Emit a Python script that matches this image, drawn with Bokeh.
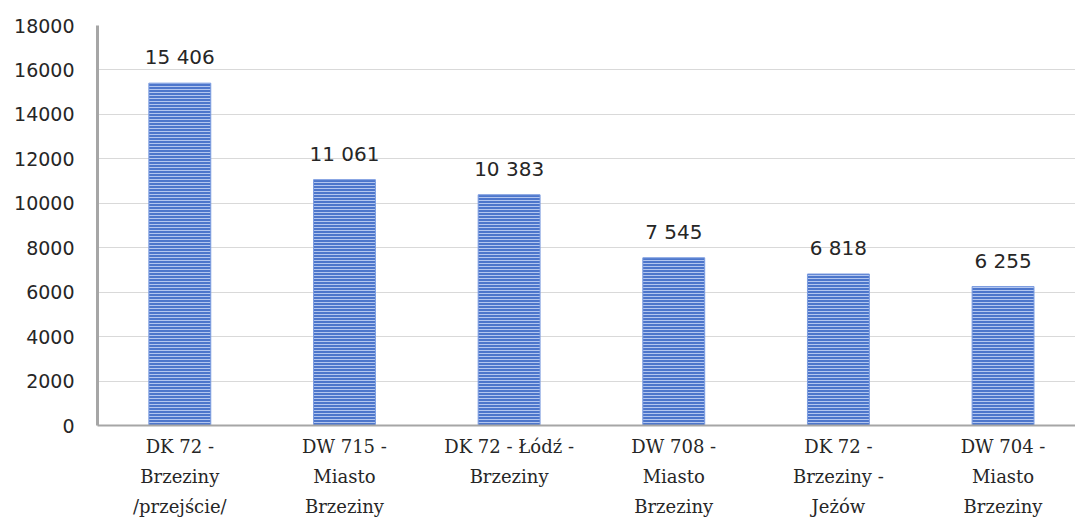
from bokeh.plotting import figure
from bokeh.models import Range1d, FixedTicker, ColumnDataSource
from bokeh.core.properties import value
from bokeh.embed import file_html
from bokeh.resources import INLINE

# Average daily traffic per measurement section
categories = [
    "DK 72 -\nBrzeziny\n/przejście/",
    "DW 715 -\nMiasto\nBrzeziny",
    "DK 72 - Łódź -\nBrzeziny",
    "DW 708 -\nMiasto\nBrzeziny",
    "DK 72 -\nBrzeziny -\nJeżów",
    "DW 704 -\nMiasto\nBrzeziny",
]
traffic = [15406, 11061, 10383, 7545, 6818, 6255]
y_ticks = [0, 2000, 4000, 6000, 8000, 10000, 12000, 14000, 16000, 18000]

xs = [i + 0.5 for i in range(len(categories))]
labels = [f"{v:,}".replace(",", " ") for v in traffic]
src = ColumnDataSource(dict(x=xs, top=traffic, label=labels))

p = figure(
    width=1075, height=522,
    output_backend="svg", toolbar_location=None,
    x_range=Range1d(0, 5.94), y_range=Range1d(0, 18000),
    min_border_left=97, min_border_right=0,
    min_border_top=25, min_border_bottom=97,
)
p.outline_line_color = None
p.background_fill_color = "white"
p.border_fill_color = "white"

p.vbar(
    x="x", top="top", width=0.376, source=src,
    fill_color="#4d76cb", line_color="#7d9de0", line_width=1,
    hatch_pattern="horizontal_line", hatch_color="#b3c6ef",
    hatch_scale=3, hatch_weight=1,
)

p.text(
    x="x", y="top", text="label", source=src,
    text_align="center", text_baseline="bottom", y_offset=-14,
    text_font=value("DejaVu Sans"), text_font_size="20px", text_color="#262626",
)

# grid
p.xgrid.grid_line_color = None
p.ygrid.grid_line_color = "#d9d9d9"
p.ygrid.grid_line_width = 1
p.ygrid.ticker = FixedTicker(ticks=y_ticks)

# y axis
p.yaxis.ticker = FixedTicker(ticks=y_ticks)
p.yaxis.axis_line_color = "#a6a6a6"
p.yaxis.axis_line_width = 3
p.yaxis.major_tick_line_color = None
p.yaxis.minor_tick_line_color = None
p.yaxis.major_label_standoff = 17
p.yaxis.major_label_text_font = "DejaVu Sans"
p.yaxis.major_label_text_font_size = "19px"
p.yaxis.major_label_text_color = "#262626"

# x axis
p.xaxis.ticker = FixedTicker(ticks=xs)
p.xaxis.major_label_overrides = {x: c for x, c in zip(xs, categories)}
p.xaxis.axis_line_color = "#a6a6a6"
p.xaxis.axis_line_width = 2
p.xaxis.major_tick_line_color = None
p.xaxis.minor_tick_line_color = None
p.xaxis.major_label_standoff = 4
p.xaxis.major_label_text_font = "DejaVu Serif"
p.xaxis.major_label_text_font_size = "18px"
p.xaxis.major_label_text_line_height = 1.45
p.xaxis.major_label_text_color = "#262626"

open("out.html", "w").write(file_html(p, INLINE))
